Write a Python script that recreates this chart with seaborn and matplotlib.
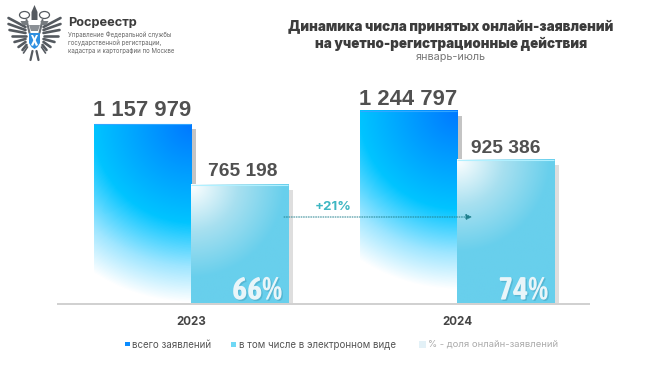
import matplotlib
matplotlib.use("Agg")
import matplotlib.pyplot as plt
from matplotlib.colors import LinearSegmentedColormap
from matplotlib.patches import Polygon, Rectangle, Ellipse
import matplotlib.patheffects as pe
import numpy as np
import pandas as pd
import seaborn as sns

# Данные
anios = ["2023", "2024"]
total = [1157979, 1244797]
online = [765198, 925386]
etiquetas_total = ["1 157 979", "1 244 797"]
etiquetas_online = ["765 198", "925 386"]
dolya = ["66%", "74%"]

W, H = 658, 366
BASE_PX = 303
ESCALA = 179 / 1157979  # пикселей на заявление

sns.set_theme(style="white")
plt.rcParams["font.family"] = ["Inter", "DejaVu Sans"]

df = pd.DataFrame({
    "anio": anios * 2,
    "valor": total + online,
    "serie": ["всего"] * 2 + ["онлайн"] * 2,
})

fig = plt.figure(figsize=(W / 100, H / 100), dpi=100, facecolor="white")
ax = fig.add_axes([0, 0, 1, 1])
sns.barplot(data=df, x="anio", y="valor", hue="serie", width=0.73, gap=0,
            legend=False, ax=ax, color="white", saturation=1)
ax.axis("off")


def px(x, y):
    return x / W, 1 - y / H


cmap_total = LinearSegmentedColormap.from_list(
    "total", [(0, "#0078ff"), (0.55, "#00c4ff"), (0.8, "#9fe6ff"), (1, "#ffffff")])
cmap_online = LinearSegmentedColormap.from_list(
    "online", [(0, "#ffffff"), (0.5, "#a8e0f0"), (1, "#68cfec")])

ppx = 266  # пикселей на единицу оси x
barras = sorted(ax.patches, key=lambda b: b.get_x())
# сдвиг и отступ подписей в пикселях: 2023 всего, 2023 онлайн, 2024 всего, 2024 онлайн
sdvig = [0, 3, 0, 0]
otstup = [7.5, 9, 6, 7]
for i, bar in enumerate(barras):
    x0, w, h = bar.get_x(), bar.get_width(), bar.get_height()
    es_total = i % 2 == 0
    w_px, h_px = int(w * ppx), int(h * ESCALA)
    xx, yy = np.meshgrid(np.arange(w_px), np.arange(h_px))
    # радиальная заливка: от правого верхнего угла или от левого верхнего
    if es_total:
        d = np.hypot(w_px - xx, yy) / 178
        img = cmap_total(np.clip(d, 0, 1))
    else:
        d = np.hypot(xx, yy) / 92
        img = cmap_online(np.clip(d, 0, 1))
    # тень справа
    sombra = "#c4c4c4" if es_total else "#dedede"
    z_sombra = 1 if es_total else 2
    ax.add_patch(Rectangle((x0 + w, 0), 5 / ppx, h - 5 / ESCALA, color=sombra, lw=0, zorder=z_sombra))
    ax.imshow(img, extent=[x0, x0 + w, 0, h], aspect="auto", origin="upper", zorder=3, interpolation="bilinear")
    # светлая кромка сверху
    borde = "#33a6ff" if es_total else "#b0f0ff"
    ax.plot([x0, x0 + w], [h, h], color=borde, lw=0.8, zorder=4, solid_capstyle="butt")
    etiqueta = (etiquetas_total if es_total else etiquetas_online)[i // 2]
    ax.text(x0 + w / 2 + sdvig[i] / ppx, h + otstup[i] / ESCALA, etiqueta, ha="center", va="baseline",
            fontsize=15.8 if es_total else 13.8, fontweight="bold", color="#505050",
            family=["Liberation Sans"], zorder=5)
    if not es_total:
        ax.text(x0 + w - 6 / ppx, 3.5 / ESCALA, dolya[i // 2], ha="right", va="baseline",
                fontsize=23, fontweight="bold", color="#e9f5f9",
                family=["Asap Condensed", "Liberation Sans"], zorder=5,
                path_effects=[pe.withSimplePatchShadow(offset=(1, -1), shadow_rgbFace="#4aa8c4", alpha=0.6)])

ax.set_xlim(-191 / 266, (W - 191) / 266)
ax.set_ylim(-(H - BASE_PX) / ESCALA, BASE_PX / ESCALA)

# базовая линия
ax.plot([(57 - 191) / ppx, (590 - 191) / ppx], [-0.7 / ESCALA, -0.7 / ESCALA], color="#d0d0d0", lw=1.4, zorder=2.5,
        solid_capstyle="butt")

# стрелка +21%
y_flecha = (BASE_PX - 217) / ESCALA
ax.annotate("", xy=((472 - 191) / ppx, y_flecha), xytext=((284 - 191) / ppx, y_flecha), zorder=6,
            arrowprops=dict(arrowstyle="-|>,head_length=0.3,head_width=0.15", color="#1f7f8c",
                            lw=0.7, linestyle=(0, (1, 1.5)), shrinkA=0, shrinkB=0))
fig.text(*px(333, 207), "+21%", ha="center", va="center", fontsize=9.6, fontweight="bold", color="#3db6c2")

# заголовок
fig.text(*px(451, 27), "Динамика числа принятых онлайн-заявлений", ha="center", va="center",
         fontsize=9.7, fontweight="black", color="#3c3c3c")
fig.text(*px(451, 43.5), "на учетно-регистрационные действия", ha="center", va="center",
         fontsize=9.7, fontweight="black", color="#3c3c3c")
fig.text(*px(451, 56.5), "январь-июль", ha="center", va="center", fontsize=7.8, color="#777777")

# шапка слева
fig.text(*px(68, 23), "Росреестр", ha="left", va="center", fontsize=9.2, fontweight="bold", color="#3c3c3c")
for y, linea in zip([35.5, 43, 50.5], ["Управление Федеральной службы", "государственной регистрации,",
                                       "кадастра и картографии по Москве"]):
    fig.text(*px(68, y), linea, ha="left", va="center", fontsize=4.4, color="#666666")

# годы
for x, anio in zip([191, 457], anios):
    fig.text(*px(x, 322), anio, ha="center", va="center", fontsize=8.3, fontweight="bold", color="#444444")

# легенда
fig.text(*px(132, 344.5), "всего заявлений", ha="left", va="center", fontsize=7, color="#555555")
fig.text(*px(239, 344.5), "в том числе в электронном виде", ha="left", va="center", fontsize=7, color="#555555")
fig.text(*px(428, 344.5), "% - доля онлайн-заявлений", ha="left", va="center", fontsize=6.8, color="#aaaaaa")
for x, s, c in [(125, 4.5, "#0a8cff"), (231, 5, "#6fd8f5"), (419, 7, "#e3f1f7")]:
    fig.patches.append(Rectangle((x / W, 1 - (344 + s / 2) / H), s / W, s / H, transform=fig.transFigure,
                                 color=c, lw=0))


# герб: упрощённый орёл со щитом
def pol(puntos, color, z=7):
    xy = [px(a, b) for a, b in puntos]
    fig.patches.append(Polygon(xy, closed=True, transform=fig.transFigure, color=color, lw=0, zorder=z))


def trazo(x1, y1, x2, y2, color="#555a60", lw=1.3):
    a, b = px(x1, y1), px(x2, y2)
    fig.add_artist(plt.Line2D([a[0], b[0]], [a[1], b[1]], transform=fig.transFigure, color=color, lw=lw,
                              solid_capstyle="round"))


c = 34.5
for s in (-1, 1):
    # перья крыла
    for a0, b0, a1, b1 in [(9, 27, 26, 18), (9, 30, 26, 24), (9, 33, 25, 30), (9, 36, 23, 36),
                           (9, 39, 20, 42), (9, 42, 16, 47), (8, 45, 12, 50)]:
        trazo(c + s * a0, b0, c + s * a1, b1, lw=1.9)
    # хвост и лапы
    trazo(c + s * 7, 47, c + s * 11, 53, lw=1.2)
    trazo(c + s * 2, 51, c + s * 4, 60, lw=1.6)
    # шея, голова и корона
    trazo(c + s * 5, 33, c + s * 8, 20, color="#6a6f74", lw=1.5)
    fig.add_artist(Ellipse(px(c + s * 10, 15), 10 / W, 7 / H, transform=fig.transFigure, fc="none", ec="#555a60", lw=0.9))
    pol([(c + s * 6, 21), (c + s * 14, 21), (c + s * 12, 25), (c + s * 7, 25)], "#777c80")
pol([(31.5, 12), (34.5, 5), (37.5, 12), (37.5, 20), (31.5, 20)], "#555a60")
pol([(29, 25), (40, 25), (38, 31), (31, 31)], "#8b9096")
pol([(29, 33), (40, 33), (40, 43), (37.5, 47), (34.5, 49), (31.5, 47), (29, 43)], "#2f8fe0", z=8)
pol([(31, 35), (33, 35), (38, 45), (36, 46)], "#ffffff", z=9)
pol([(36, 35), (38, 35), (33, 46), (31, 45)], "#ffffff", z=9)

fig.savefig("out.png", dpi=100, facecolor="white")
